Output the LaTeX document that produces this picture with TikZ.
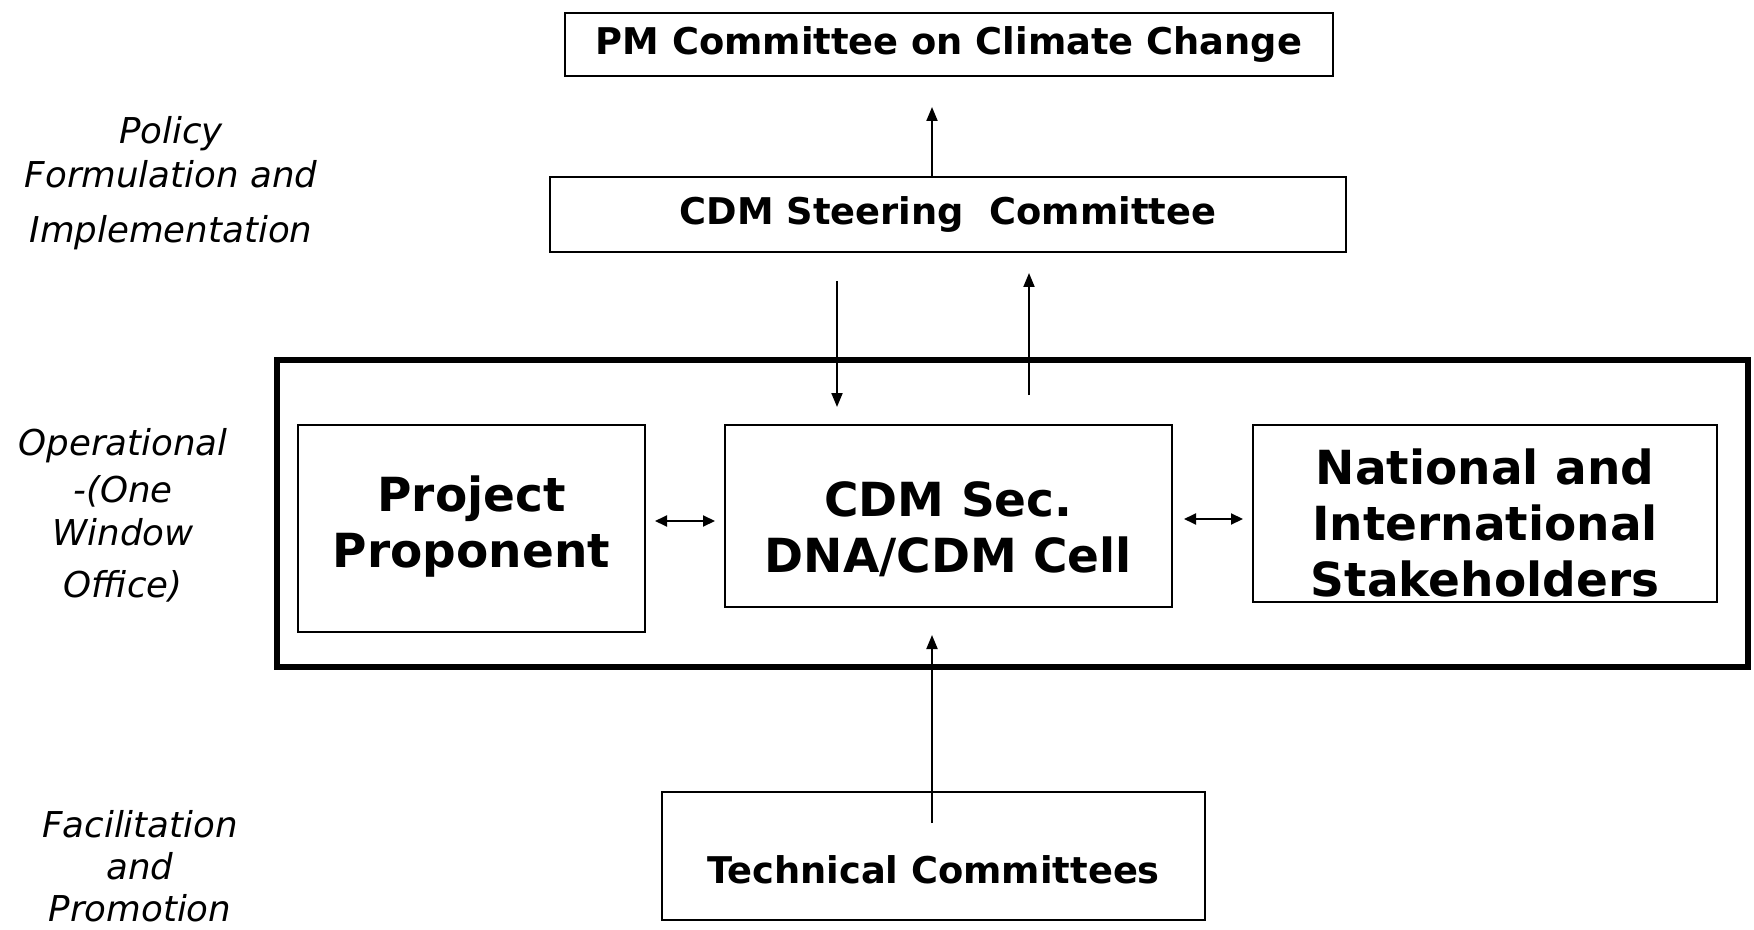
\documentclass[tikz,border=0pt]{standalone}
\usepackage{fontspec}
\setmainfont{DejaVu Sans}
\usetikzlibrary{arrows.meta}

\tikzset{
  unit/.style={draw=black, line width=1pt, inner sep=0pt, font=\bfseries\fontsize{18.4}{22}\selectfont},
  bigtxt/.style={align=center, inner sep=0pt, font=\bfseries\fontsize{23.5}{28}\selectfont},
  tier/.style={align=center, inner sep=0pt, font=\itshape\fontsize{17.8}{22}\selectfont},
  arr/.style={-{Triangle[length=7pt,width=5.5pt]}, line width=1pt},
  twoway/.style={{Triangle[length=6pt,width=5.5pt]}-{Triangle[length=6pt,width=5.5pt]}, line width=1pt}
}

\begin{document}
\begin{tikzpicture}[x=0.5pt,y=-0.5pt]
        \useasboundingbox (0,0) rectangle (1754,930);
        % levels on the left
        \node[tier] (policy) at (171,183) {Policy\\Formulation and\\[5.5pt]Implementation};
        \node[tier] (oper) at (123,515) {Operational\\[1.5pt]-(One\\[-0.5pt]Window\\[4pt]Office)};
        \node[tier] (facil) at (140,866) {Facilitation\\[-1pt]and\\[-1pt]Promotion};
        % boxes
        \node[unit, minimum width=384pt, minimum height=31.5pt] (pm) at (949,44.5) {PM Committee on Climate Change};
        \node[unit, minimum width=398pt, minimum height=37.5pt] (steer) at (948,214.5) {CDM Steering\ \ Committee};
        \node[draw=black, line width=3pt, minimum width=735.5pt, minimum height=153.5pt] (ops) at (1012.5,513.5) {};
        \node[unit, minimum width=173.5pt, minimum height=103.5pt] (prop) at (471.5,528.5) {};
        \node[unit, minimum width=223.5pt, minimum height=91pt] (cell) at (948.5,516) {};
        \node[unit, minimum width=232pt, minimum height=88.5pt] (stake) at (1485,513.5) {};
        \node[unit, minimum width=271.5pt, minimum height=64pt] (tech) at (933.5,856) {};
        \node[bigtxt] (proptxt) at ([yshift=1pt]prop.center) {Project\\Proponent};
        \node[bigtxt] (celltxt) at ([yshift=-6.8pt]cell.center) {CDM Sec.\\DNA/CDM Cell};
        \node[bigtxt] (staketxt) at ([yshift=-4.5pt]stake.center) {National and\\International\\Stakeholders};
        \node[unit, draw=none] (techtxt) at ([yshift=-7pt]tech.center) {Technical Committees};
        % arrows
        \coordinate (spine) at (932,0);
        \coordinate (downx) at (837,0);
        \coordinate (upx) at (1029,0);
        \coordinate (lefty) at (0,521);
        \coordinate (righty) at (0,519);
        \draw[arr, shorten >=15pt] (steer.north -| spine) -- (pm.south -| spine);
        \draw[arr, shorten <=14pt, shorten >=8.5pt] (steer.south -| downx) -- (cell.north -| downx);
        \draw[arr, shorten <=14.5pt, shorten >=10pt] (cell.north -| upx) -- (steer.south -| upx);
        \draw[arr, shorten <=-16pt, shorten >=13.5pt] (tech.north -| spine) -- (cell.south -| spine);
        \draw[twoway, shorten <=4.5pt, shorten >=4.5pt] (prop.east |- lefty) -- (cell.west |- lefty);
        \draw[twoway, shorten <=5.5pt, shorten >=4.5pt] (cell.east |- righty) -- (stake.west |- righty);
    \end{tikzpicture}
\end{document}
